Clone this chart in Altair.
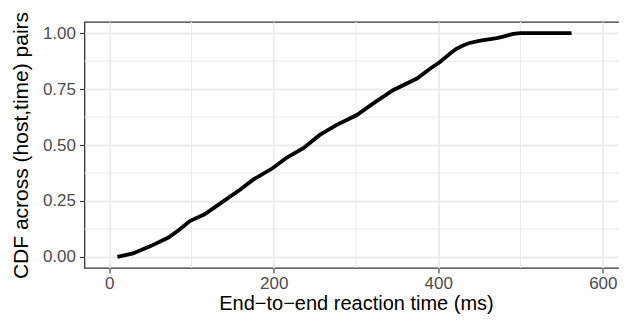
import altair as alt
import pandas as pd

# ECDF
reaction_ms = [10, 29, 51, 72, 86, 98, 116, 139, 159, 175, 199, 216, 236, 256, 276,
               301, 321, 345, 374, 390, 402, 414, 422, 430, 438, 451, 471, 479, 491,
               500, 511, 562]
cdf_values = [0.0, 0.015, 0.049, 0.086, 0.123, 0.16, 0.19, 0.249, 0.30, 0.345, 0.397,
              0.444, 0.486, 0.545, 0.589, 0.634, 0.686, 0.745, 0.797, 0.841, 0.871,
              0.908, 0.930, 0.945, 0.956, 0.967, 0.978, 0.985, 0.997, 1.0, 1.0, 1.0]

x_major = [0, 200, 400, 600]
x_minor = [100, 300, 500]
y_major = [0.0, 0.25, 0.5, 0.75, 1.0]
y_minor = [0.125, 0.375, 0.625, 0.875]

x_domain = [-30, 630]
y_domain = [-0.05, 1.05]

FONT = "Liberation Sans"

df = pd.DataFrame({"ms": reaction_ms, "cdf": cdf_values})
xs = alt.Scale(domain=x_domain, nice=False, zero=False)
ys = alt.Scale(domain=y_domain, nice=False, zero=False)

x_axis = alt.Axis(
    values=x_major, grid=True, gridColor="#EBEBEB", gridWidth=1.8,
    domain=False, ticks=True, tickSize=5, tickColor="#333333", tickWidth=1.1,
    labelFont=FONT, labelFontSize=17, labelColor="#4D4D4D", labelPadding=2,
    title="End\u2212to\u2212end reaction time (ms)", titleFont=FONT, titleFontSize=20,
    titleFontWeight="normal", titleColor="#000000", titleBaseline="alphabetic",
    titleY=41.8,
)
y_axis = alt.Axis(
    values=y_major, format=".2f", grid=True, gridColor="#EBEBEB", gridWidth=1.8,
    domain=False, ticks=True, tickSize=5, tickColor="#333333", tickWidth=1.1,
    labelFont=FONT, labelFontSize=17, labelColor="#4D4D4D", labelPadding=4,
    title="CDF across (host,time) pairs", titleFont=FONT, titleFontSize=21,
    titleFontWeight="normal", titleColor="#000000", titleBaseline="alphabetic",
    titleX=-57,
)

minor_x = alt.Chart(pd.DataFrame({"v": x_minor})).mark_rule(
    color="#EBEBEB", strokeWidth=1.0
).encode(x=alt.X("v:Q", scale=xs, axis=x_axis))

minor_y = alt.Chart(pd.DataFrame({"v": y_minor})).mark_rule(
    color="#EBEBEB", strokeWidth=1.0
).encode(y=alt.Y("v:Q", scale=ys, axis=y_axis))

line = alt.Chart(df).mark_line(color="#000000", strokeWidth=3.8).encode(
    x=alt.X("ms:Q", scale=xs, axis=x_axis),
    y=alt.Y("cdf:Q", scale=ys, axis=y_axis),
)

chart = alt.layer(minor_x, minor_y, line).properties(
    width=543, height=246,
    autosize=alt.AutoSizeParams(type="none"),
    padding={"left": 76.5, "top": 14, "right": -8.5, "bottom": 46},
    background="white",
).configure_view(stroke="#333333", strokeWidth=1.3)

chart.save("out.html", embed_options={"renderer": "svg", "actions": False})
